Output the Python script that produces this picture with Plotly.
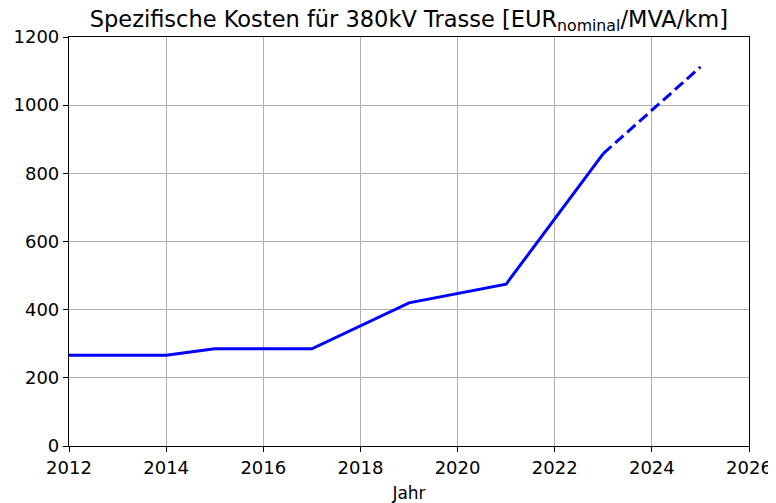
import plotly.graph_objects as go

years_actual = [2012, 2014, 2015, 2017, 2019, 2021, 2023]
cost_actual = [266, 266, 285, 285, 420, 475, 858]
years_forecast = [2023, 2025]
cost_forecast = [858, 1112]

x_ticks = [2012, 2014, 2016, 2018, 2020, 2022, 2024, 2026]
y_ticks = [0, 200, 400, 600, 800, 1000, 1200]

FONT = "DejaVu Sans"
BLUE = "#0000ff"

fig = go.Figure()
fig.add_trace(go.Scatter(x=years_actual, y=cost_actual, mode="lines",
                         line=dict(color=BLUE, width=3), showlegend=False))
fig.add_trace(go.Scatter(x=years_forecast, y=cost_forecast, mode="lines",
                         line=dict(color=BLUE, width=3, dash="11px,5px"), showlegend=False))

axis_common = dict(showline=True, linecolor="black", linewidth=1.2, mirror=True,
                   ticks="outside", ticklen=5, tickcolor="black", tickwidth=1,
                   showgrid=True, gridcolor="#b0b0b0", gridwidth=1, zeroline=False,
                   automargin=False,
                   tickfont=dict(family=FONT, size=18, color="black"))

fig.update_xaxes(range=[2012, 2026], tickvals=x_ticks, ticktext=[str(v) for v in x_ticks],
                 title=dict(text="Jahr", font=dict(family=FONT, size=17, color="black"), standoff=10),
                 **axis_common)
fig.update_yaxes(range=[0, 1200], tickvals=y_ticks, ticktext=[str(v) for v in y_ticks],
                 **axis_common)

# page body has an 8px margin, so the figure is sized to compensate
fig.update_layout(
    width=768, height=495,
    margin=dict(l=61, r=27, t=29, b=57),
    paper_bgcolor="white", plot_bgcolor="white",
    title=dict(text="Spezifische Kosten für 380kV Trasse [EUR<sub>nominal</sub>/MVA/km]",
               font=dict(family=FONT, size=22.5, color="black"),
               x=0.522, xanchor="center", y=0.994, yanchor="top"),
)

fig.write_html("out.html")
